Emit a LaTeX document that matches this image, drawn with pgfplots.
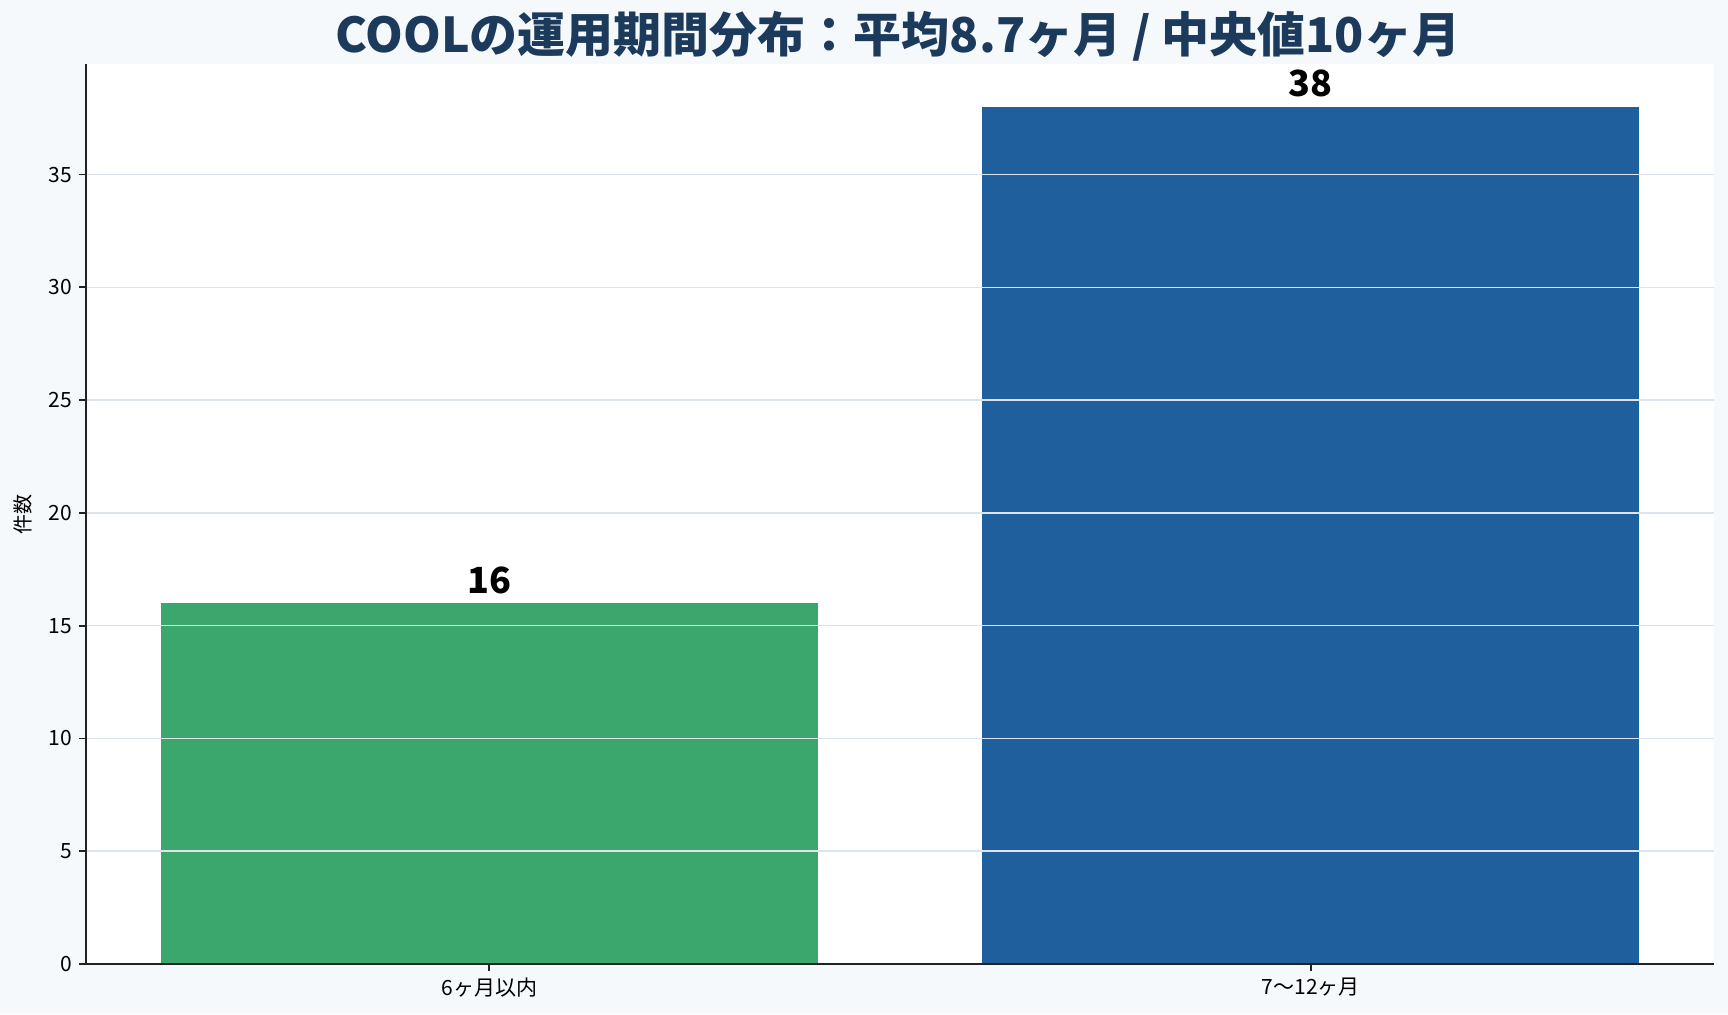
\documentclass[border=0pt]{standalone}
\usepackage{fontspec}
\setmainfont{Noto Sans CJK JP}
\usepackage{pgfplots}
\pgfplotsset{compat=1.18}

\definecolor{bgpage}{HTML}{F6F9FC}
\definecolor{titleblue}{HTML}{1B3A5C}
\definecolor{bargreen}{HTML}{3BA76D}
\definecolor{barblue}{HTML}{1F5F9E}
\definecolor{gridc}{HTML}{DDE4EC}
\definecolor{spine}{HTML}{222222}

\begin{document}
\begin{tikzpicture}
\fill[bgpage] (0,0) rectangle (864pt,507pt);
\begin{axis}[
    at={(43pt,25pt)}, anchor=south west,
    width=814pt, height=450pt, scale only axis,
    axis background/.style={fill=white},
    axis on top,
    axis x line*=bottom, axis y line*=left,
    axis line style={-, spine, line width=1pt},
    tick align=outside,
    major tick length=3.5pt,
    tick style={spine, line width=0.9pt},
    xmin=-0.491, xmax=1.491,
    ymin=0, ymax=39.9,
    xtick={0,1},
    xticklabels={6ヶ月以内, 7〜12ヶ月},
    ytick={0,5,10,15,20,25,30,35},
    ymajorgrids=true,
    grid style={gridc, line width=0.75pt},
    /pgf/number format/assume math mode=true,
    ticklabel style={font=\fontsize{10.5}{12}\selectfont, text=black},
    ylabel={件数},
    ylabel style={font=\fontsize{10}{12}\selectfont, at={(axis description cs:0,0.5)}, anchor=center, yshift=31.5pt},
    ybar, bar width=0.8,
    nodes near coords,
    every node near coord/.append style={font=\fontsize{18}{20}\selectfont\bfseries, text=black, inner sep=0pt, yshift=4.5pt},
]
\addplot[fill=bargreen, draw=none, bar shift=0pt] coordinates {(0,16)};
\addplot[fill=barblue, draw=none, bar shift=0pt] coordinates {(1,38)};
\end{axis}
\node[font=\fontsize{24}{27}\selectfont\bfseries, text=titleblue] at (449pt,489pt) {COOLの運用期間分布：平均8.7ヶ月 / 中央値10ヶ月};
\pgfresetboundingbox
\path[use as bounding box] (0,0) rectangle (864pt,507pt);
\end{tikzpicture}
\end{document}
